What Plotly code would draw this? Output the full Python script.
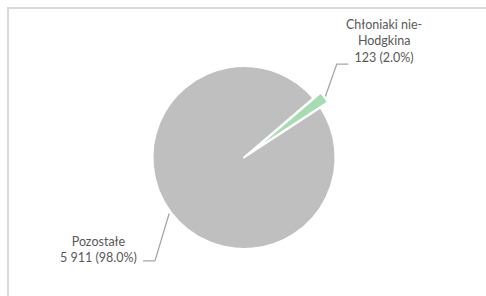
import math
import plotly.graph_objects as go

# ---- data ----
labels = ["Chłoniaki nie-Hodgkina", "Pozostałe"]
label_text = ["Chłoniaki nie-<br>Hodgkina", "Pozostałe"]
values = [123, 5911]
colors = ["#a6ddb0", "#bfbfbf"]
pulls = [0.1, 0.0]

W, H = 486, 296
# pie geometry in pixels (style)
CX, CY, R = 244, 157.5, 91.5
ROT = 49.5
max_pull = max(pulls)
box = R * (2 + 2 * max_pull)

def px(x):
    return x / W

def py(y):
    return 1 - y / H

total = sum(values)

fig = go.Figure(go.Pie(
    labels=labels,
    values=values,
    sort=False,
    direction="clockwise",
    rotation=ROT,
    pull=pulls,
    textinfo="none",
    hoverinfo="label+value+percent",
    marker=dict(colors=colors, line=dict(color="white", width=2)),
    showlegend=False,
    domain=dict(x=[px(CX - box / 2 - 40), px(CX + box / 2 + 40)],
                y=[py(CY + box / 2), py(CY - box / 2)]),
))

# label leader lines, derived from slice mid-angles
leader_style = [
    dict(r_extra=1.0, elbow=(11.4, -32.5), hlen=11.6, text_dx=36, text_dy=-23, xanchor="center"),
    dict(r_extra=2.0, elbow=(-14.2, 47.4), hlen=-12, text_dx=-4, text_dy=-11.5, xanchor="right"),
]

shapes = [dict(type="rect", xref="paper", yref="paper",
               x0=px(8), x1=1.02, y0=-0.02, y1=py(8),
               line=dict(color="#d9d9d9", width=2), fillcolor="rgba(0,0,0,0)")]
annotations = []

cum = 0
for i, v in enumerate(values):
    frac = v / total
    mid = ROT + 360 * (cum + frac / 2)
    cum += frac
    a = math.radians(mid)
    rr = R * (1 + pulls[i]) + leader_style[i]["r_extra"]
    ax = CX + rr * math.sin(a)
    ay = CY - rr * math.cos(a)
    st = leader_style[i]
    ex, ey = ax + st["elbow"][0], ay + st["elbow"][1]
    hx = ex + st["hlen"]
    path = f"M {px(ax)},{py(ay)} L {px(ex)},{py(ey)} L {px(hx)},{py(ey)}"
    shapes.append(dict(type="path", xref="paper", yref="paper", path=path,
                       line=dict(color="#a6a6a6", width=1.3)))
    txt = f"{label_text[i]}<br>{v:,}".replace(",", " ") + f" ({frac*100:.1f}%)"
    annotations.append(dict(
        x=px(hx + st["text_dx"]), y=py(ey + st["text_dy"]),
        xref="paper", yref="paper", text=txt, showarrow=False,
        xanchor=st["xanchor"], yanchor="middle", align="center",
        font=dict(family="Lato", size=12.5, color="#595959"),
    ))

fig.update_layout(
    width=W, height=H,
    margin=dict(l=0, r=0, t=0, b=0),
    paper_bgcolor="white",
    plot_bgcolor="white",
    shapes=shapes,
    annotations=annotations,
)

fig.write_html("out.html", config={"displayModeBar": False},
               post_script="document.body.style.margin='0';document.body.style.overflow='hidden';")
